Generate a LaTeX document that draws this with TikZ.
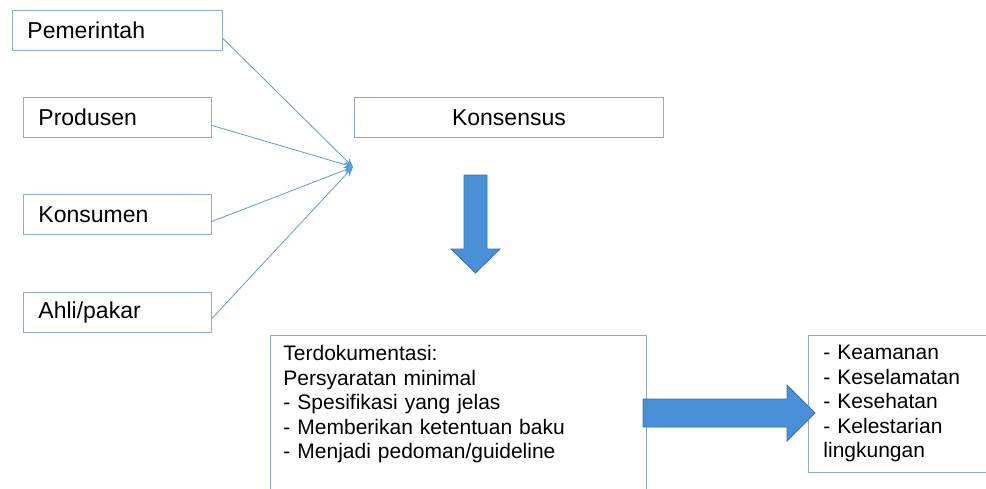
\documentclass[tikz,border=0pt]{standalone}
\usepackage{fontspec}
\setmainfont{Liberation Sans}
\usepackage{xcolor}
\usepackage{tikz}
\usetikzlibrary{arrows.meta,calc}
\definecolor{boxline}{HTML}{8EA9D4}
\definecolor{linkblue}{HTML}{5B9BD5}
\definecolor{arrowfill}{HTML}{4A90D9}
\definecolor{arrowline}{HTML}{3D6FA3}
\tikzset{
  actor/.style={draw=boxline,line width=0.9pt,fill=white,inner xsep=15pt,inner ysep=0pt,
    minimum height=40pt,align=left,font=\fontsize{23}{26}\selectfont},
  listbox/.style={draw=boxline,line width=0.9pt,fill=white,anchor=north west,inner ysep=10pt,
    align=left,font=\fontsize{21}{24.5}\selectfont},
  flowarrow/.style={-{Stealth[length=9pt,width=7pt]},line width=0.8pt,draw=linkblue},
  bigarrow/.style={fill=arrowfill,draw=arrowline,line width=0.8pt,line join=miter}
}

\begin{document}
\begin{tikzpicture}[x=1pt,y=-1pt]
\useasboundingbox (0,0) rectangle (986,488);
\clip (0,0) rectangle (986,488);

\node[actor, anchor=north west, text width=180pt] (pem) at (12,10) {Pemerintah};
\node[actor, anchor=north west, text width=158pt] (pro) at (23,97) {Produsen};
\node[actor, anchor=north west, text width=158pt] (kon) at (23,194) {Konsumen};
\node[actor, anchor=north west, text width=158pt] (ahli) at (23,292) {Ahli/pakar};
\node[actor, anchor=north west, text width=279pt, align=center] (kons) at (354,97) {Konsensus};

\coordinate (hub) at (353,167);
\draw[flowarrow] ([yshift=-8pt]pem.east) -- (hub);
\draw[flowarrow] ([yshift=-8pt]pro.east) -- (hub);
\draw[flowarrow] ([yshift=-7pt]kon.east) -- (hub);
\draw[flowarrow] ([yshift=-6pt]ahli.east) -- (hub);

% dokumen dan tujuan
\node[listbox, inner xsep=13pt, text width=350pt, text depth=175pt] (doc) at (270,335)
  {Terdokumentasi:\\Persyaratan minimal\\- Spesifikasi yang jelas\\- Memberikan ketentuan baku\\- Menjadi pedoman/guideline};
\node[listbox, inner xsep=15pt, text width=182pt] (goal) at (808,335)
  {- Keamanan\\- Keselamatan\\- Kesehatan\\- Kelestarian\\lingkungan};

% panah blok
\draw[bigarrow] (464,175) -- (487,175) -- (487,249) -- (500,249) -- (475.5,273)
  -- (451,249) -- (464,249) -- cycle;
\draw[bigarrow] (643,399) -- (787,399) -- (787,385) -- (815,413) -- (787,441)
  -- (787,427) -- (643,427) -- cycle;
\end{tikzpicture}
\end{document}
